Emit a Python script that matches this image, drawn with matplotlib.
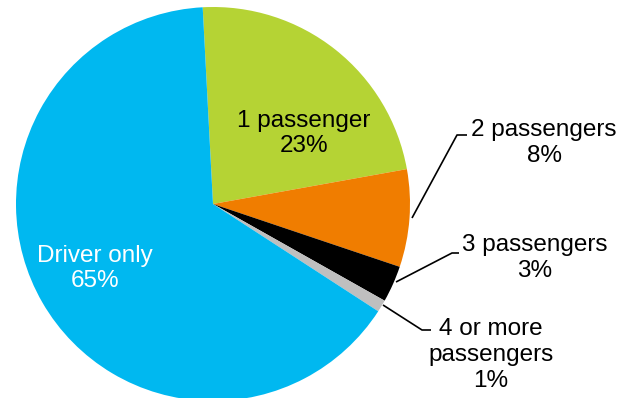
import matplotlib
matplotlib.use("Agg")
import matplotlib.pyplot as plt

# Car occupancy shares
labels = ["1 passenger", "2 passengers", "3 passengers", "4 or more\npassengers", "Driver only"]
shares = [23, 8, 3, 1, 65]
colors = ["#B5D334", "#F07D00", "#000000", "#BFBFBF", "#00B8F0"]

plt.rcParams["font.family"] = ["Liberation Sans", "DejaVu Sans"]

W, H = 632, 398
fig = plt.figure(figsize=(W / 100, H / 100), dpi=100)
ax = fig.add_axes([0, 0, 1, 1])

cx, cy, r = 213, H - 204, 197
wedges, _ = ax.pie(shares, colors=colors, startangle=93, counterclock=False,
                   center=(cx, cy), radius=r,
                   wedgeprops=dict(linewidth=0))

ax.set_xlim(0, W)
ax.set_ylim(0, H)
ax.set_aspect("equal")
ax.axis("off")

fs = 17.5
ls = 1.22

# labels inside the large slices
ax.text(304, H - 133.5, f"{labels[0]}\n{shares[0]}%", ha="center", va="center",
        fontsize=fs, color="black", linespacing=ls)
ax.text(95, H - 268.5, f"{labels[4]}\n{shares[4]}%", ha="center", va="center",
        fontsize=fs, color="white", linespacing=ls)

# outside labels with leader lines
outside = [
    (1, (412, 218), (457, 135), (467, 135), (544, 143)),
    (2, (396, 282), (452, 253), (459, 253), (535, 258)),
    (3, (383, 305), (422, 330), (431, 330), (491, 355)),
]
for i, p0, p1, p2, txt in outside:
    ax.plot([p0[0], p1[0], p2[0]], [H - p0[1], H - p1[1], H - p2[1]],
            color="black", linewidth=1.2, solid_capstyle="butt")
    ax.text(txt[0], H - txt[1], f"{labels[i]}\n{shares[i]}%", ha="center", va="center",
            fontsize=fs, color="black", linespacing=ls)

fig.savefig("out.png", dpi=100, facecolor="white")
